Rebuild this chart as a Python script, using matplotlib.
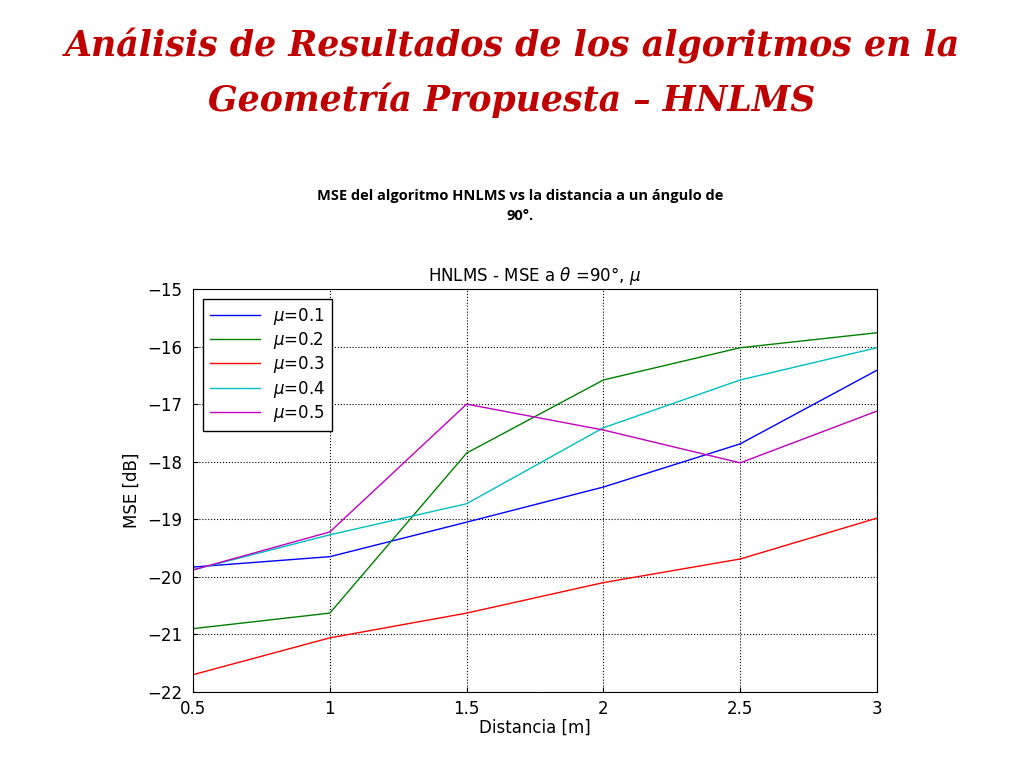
import matplotlib.pyplot as plt

distancia = [0.5, 1, 1.5, 2, 2.5, 3]
xticks = [0.5, 1, 1.5, 2, 2.5, 3]
xtick_labels = ['0.5', '1', '1.5', '2', '2.5', '3']
mu_labels = ['$\\mu$=0.1', '$\\mu$=0.2', '$\\mu$=0.3', '$\\mu$=0.4', '$\\mu$=0.5']
mse_01 = [-19.83, -19.65, -19.05, -18.44, -17.69, -16.41]
mse_02 = [-20.90, -20.63, -17.85, -16.58, -16.02, -15.76]
mse_03 = [-21.70, -21.06, -20.63, -20.10, -19.69, -18.98]
mse_04 = [-19.88, -19.27, -18.73, -17.41, -16.58, -16.02]
mse_05 = [-19.88, -19.22, -17.00, -17.45, -18.02, -17.12]
colores = ['#0000ff', '#008000', '#ff0000', '#00bfbf', '#bf00bf']

fig = plt.figure(figsize=(10.24, 7.68), dpi=100)
fig.text(0.5, 0.94, 'Análisis de Resultados de los algoritmos en la', ha='center', va='center',
         fontsize=25, color='#c00000', fontweight='bold', fontstyle='italic', family='DejaVu Serif')
fig.text(0.5, 0.87, 'Geometría Propuesta – HNLMS', ha='center', va='center',
         fontsize=25, color='#c00000', fontweight='bold', fontstyle='italic', family='DejaVu Serif')
fig.text(0.508, 0.732, 'MSE del algoritmo HNLMS vs la distancia a un ángulo de\n90°.', ha='center', va='center',
         fontsize=10.5, fontweight='bold', family='Open Sans', linespacing=1.6)

ax = fig.add_axes([0.1885, 0.099, 0.668, 0.5247])
for serie, lab, c in zip([mse_01, mse_02, mse_03, mse_04, mse_05], mu_labels, colores):
    ax.plot(distancia, serie, color=c, lw=1, label=lab)
ax.set_xlim(0.5, 3)
ax.set_ylim(-22, -15)
ax.set_xticks(xticks)
ax.set_xticklabels(xtick_labels)
ax.grid(True, linestyle=':', color='black', lw=0.8)
ax.tick_params(labelsize=12, direction='in')
ax.tick_params(axis='x', pad=6)
ax.tick_params(axis='y', pad=8)
ax.set_xlabel('Distancia [m]', fontsize=12, labelpad=0)
ax.set_ylabel('MSE [dB]', fontsize=12)
ax.set_title('HNLMS - MSE a $\\theta$ =90°, $\\mu$', fontsize=12)
ax.legend(loc='upper left', fontsize=12, fancybox=False, edgecolor='black',
          framealpha=1, handlelength=3, borderaxespad=0.6, labelspacing=0.2)

fig.savefig('out.png')
